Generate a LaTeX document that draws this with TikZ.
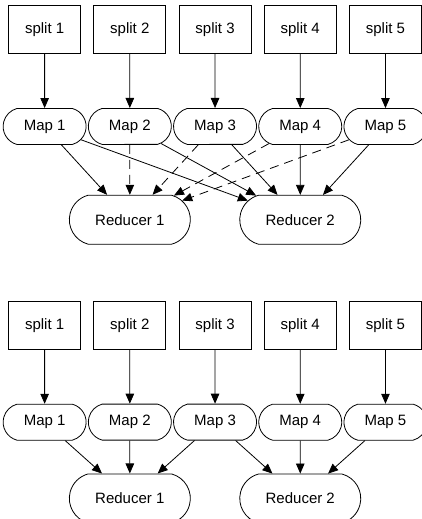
\documentclass[tikz,border=0pt]{standalone}
\usepackage{fontspec}
\setmainfont{Liberation Sans}
\usetikzlibrary{matrix}
\usetikzlibrary{positioning}
\usetikzlibrary{shapes.misc}
\usetikzlibrary{arrows.meta}
\tikzset{
  % use \& to separate cells in matrices
  every matrix/.style={ampersand replacement=\&},
  % edges with filled arrow heads
  every edge/.append style={-{Triangle[length=10pt,width=8.5pt]},line width=.8pt},
}
\tikzset{
  block/.style={draw,line width=.8pt,font=\fontsize{15}{18}\selectfont},
  splitbox/.style={block,rectangle,minimum width=72pt,minimum height=48pt},
  task/.style={block,rounded rectangle,rounded rectangle arc length=150,inner xsep=0pt},
  mapbox/.style={task,minimum width=83pt,minimum height=36pt},
  reducebox/.style={task,minimum width=121pt,minimum height=49pt},
  % dashed connectors
  skipped/.style={dash pattern=on 9pt off 6pt},
  stage/.style={
    matrix of nodes,inner sep=0pt,anchor=north west,
    column sep=-2.65pt,row sep=54pt,
    row 1/.style={nodes=splitbox},
    row 2/.style={nodes=mapbox},
  },
}

\begin{document}
\begin{tikzpicture}
  \useasboundingbox (0,0) rectangle (422pt,-519pt);
  % upper picture
  \matrix[stage] at (0.5pt,-5pt)
  {
    |(S1)| split 1 \& |(S2)| split 2 \& |(S3)| split 3 \& |(S4)| split 4 \& |(S5)| split 5 \\
    %
    |(M1)| Map 1 \& |(M2)| Map 2 \& |(M3)| Map 3 \& |(M4)| Map 4 \& |(M5)| Map 5 \\
  };
  \node[reducebox,below=50pt of M2] (R1) {Reducer 1};
  \node[reducebox,below=50pt of M4] (R2) {Reducer 2};

  \path
  (S1) edge (M1)
  (S2) edge (M2)
  (S3) edge (M3)
  (S4) edge (M4)
  (S5) edge (M5)
  (M1) edge (R1)
  (M1) edge (R2)
  (M2) edge[skipped] (R1)
  (M2) edge (R2)
  (M3) edge[skipped] (R1)
  (M3) edge (R2)
  (M4) edge[skipped] (R1)
  (M4) edge (R2)
  (M5) edge[skipped] (R1)
  (M5) edge (R2)
  ;

  % lower picture
  \matrix[stage] at (0.5pt,-300.7pt)
  {
    |(Sb1)| split 1 \& |(Sb2)| split 2 \& |(Sb3)| split 3 \& |(Sb4)| split 4 \& |(Sb5)| split 5 \\
    %
    |(Mb1)| Map 1 \& |(Mb2)| Map 2 \& |(Mb3)| Map 3 \& |(Mb4)| Map 4 \& |(Mb5)| Map 5 \\
  };
  \node[reducebox,below=33pt of Mb2] (Rb1) {Reducer 1};
  \node[reducebox,below=33pt of Mb4] (Rb2) {Reducer 2};

  \path
  (Sb1) edge (Mb1)
  (Sb2) edge (Mb2)
  (Sb3) edge (Mb3)
  (Sb4) edge (Mb4)
  (Sb5) edge (Mb5)
  (Mb1) edge (Rb1)
  (Mb2) edge (Rb1)
  (Mb3) edge (Rb1)
  (Mb3) edge (Rb2)
  (Mb4) edge (Rb2)
  (Mb5) edge (Rb2)
  ;
\end{tikzpicture}
\end{document}
